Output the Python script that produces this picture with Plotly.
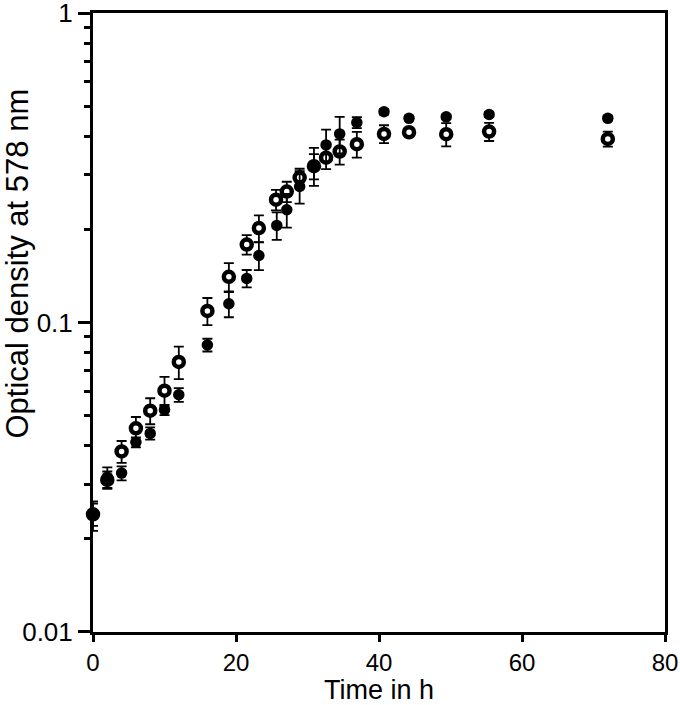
import plotly.graph_objects as go

# Filled circles series
t_filled = [0, 2, 4, 6, 8, 10, 12, 16, 19, 21.5, 23.2, 25.7, 27.1, 28.9, 30.9, 32.6, 34.5, 36.9, 40.7, 44.2, 49.4, 55.4, 72.0]
od_filled = [0.0238, 0.0316, 0.0326, 0.041, 0.0438, 0.0522, 0.0584, 0.0846, 0.115, 0.1388, 0.1646, 0.206, 0.2315,
             0.2752, 0.3215, 0.375, 0.407, 0.443, 0.48, 0.457, 0.462, 0.47, 0.457]
err_filled = [0.0026, 0.0024, 0.0017, 0.0015, 0.002, 0.002, 0.003, 0.004, 0.011, 0.009, 0.017, 0.021, 0.029,
              0.033, 0.045, 0.045, 0.055, 0.018, 0.01, 0.008, 0.008, 0.008, 0.008]

# Open circles series
t_open = [0, 2, 4, 6, 8, 10, 12, 16, 19, 21.5, 23.2, 25.6, 27.1, 28.9, 30.9, 32.6, 34.5, 36.9, 40.7, 44.2, 49.4, 55.4, 72.0]
od_open = [0.024, 0.031, 0.0383, 0.0455, 0.0519, 0.0602, 0.0746, 0.109, 0.1405, 0.1786, 0.202, 0.2494, 0.265,
           0.294, 0.32, 0.341, 0.357, 0.377, 0.407, 0.412, 0.406, 0.414, 0.392]
err_open = [0.002, 0.002, 0.0031, 0.004, 0.005, 0.0065, 0.009, 0.011, 0.015, 0.013, 0.02, 0.019, 0.02,
            0.02, 0.03, 0.028, 0.033, 0.036, 0.027, 0.01, 0.035, 0.028, 0.022]

y_tickvals = [0.01, 0.1, 1]
y_ticktext = ["0.01", "0.1", "1"]
y_minor = [0.02, 0.03, 0.04, 0.05, 0.06, 0.07, 0.08, 0.09, 0.2, 0.3, 0.4, 0.5, 0.6, 0.7, 0.8, 0.9]
x_tickvals = [0, 20, 40, 60, 80]

FONT = "Liberation Sans, Arial, sans-serif"

fig = go.Figure()
fig.add_trace(go.Scatter(
    x=t_open, y=od_open, mode="markers",
    marker=dict(symbol="circle", size=10, color="white", line=dict(color="black", width=4.5)),
    error_y=dict(type="data", array=err_open, color="black", thickness=1.8, width=5),
    showlegend=False, cliponaxis=False))
fig.add_trace(go.Scatter(
    x=t_filled, y=od_filled, mode="markers",
    marker=dict(symbol="circle", size=11.5, color="black", line=dict(width=0)),
    error_y=dict(type="data", array=err_filled, color="black", thickness=1.8, width=5),
    showlegend=False, cliponaxis=False))

fig.update_layout(
    width=680, height=705,
    margin=dict(l=93, r=15, t=13, b=73),
    plot_bgcolor="white", paper_bgcolor="white",
    font=dict(family=FONT, color="black", size=24),
    xaxis=dict(range=[0, 80], tickvals=x_tickvals, ticks="outside", ticklen=7, tickwidth=3,
               tickcolor="black", showline=True, linewidth=3, linecolor="black", mirror=True,
               showgrid=False, zeroline=False, tickfont=dict(size=24), automargin=False,
               ticklabeloverflow="allow",
               title=dict(text="Time in h", font=dict(size=27), standoff=0)),
    yaxis=dict(type="log", range=[-2.0003, 0.0003], tickvals=y_tickvals, ticktext=y_ticktext,
               ticks="outside", ticklen=12, tickwidth=3, tickcolor="black",
               showline=True, linewidth=3, linecolor="black", mirror=True,
               showgrid=False, zeroline=False, tickfont=dict(size=26), automargin=False,
               ticklabeloverflow="allow",
               minor=dict(tickvals=y_minor, ticks="outside", ticklen=6, tickwidth=3, tickcolor="black",
                          showgrid=False)),
)
fig.add_annotation(text="Optical density at 578 nm", textangle=-90, xref="paper", yref="paper",
                   x=-0.132, y=0.596, xanchor="center", yanchor="middle", showarrow=False,
                   font=dict(size=31, family=FONT))

fig.write_html("out.html", config={"displayModeBar": False},
               post_script="document.body.style.margin='0';document.body.style.overflow='hidden';")
